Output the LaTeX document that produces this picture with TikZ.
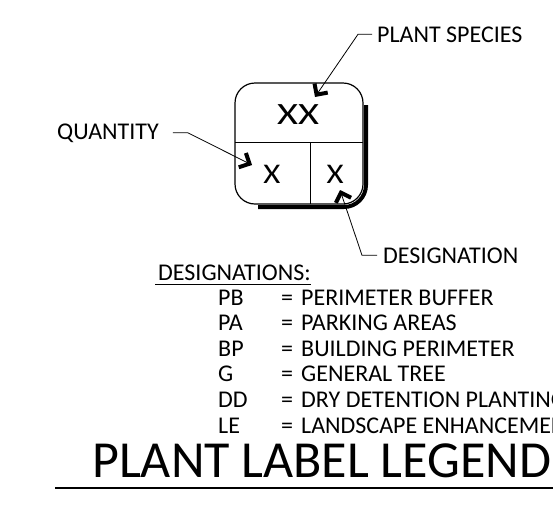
\documentclass[tikz,border=0pt]{standalone}
\usepackage{fontspec}
\setmainfont{Carlito}
\usepackage{tikz}
\usepackage{graphicx}
\usetikzlibrary{arrows.meta}
\tikzstyle{lbl}=[inner sep=0pt, anchor=base west, font=\fontsize{24}{28}\selectfont]
\tikzstyle{xmark}=[inner sep=0pt]
\tikzstyle{leader}=[line width=0.8pt, -{Straight Barb[length=8pt,width=16pt,line width=4pt]}]

\begin{document}
\begin{tikzpicture}[x=1pt,y=-1pt]
  \useasboundingbox (0,0) rectangle (553,509);
  % the label symbol
  \draw[line width=4pt, rounded corners=22pt] (366,105) -- (366,207) -- (258,207);
  \draw[fill=white, line width=1.2pt, rounded corners=20pt] (235,83) rectangle (363,204);
  \draw[line width=1pt] (235,142) -- (363,142);
  \draw[line width=1pt] (310,142) -- (310,204);
  \node[xmark, font=\fontsize{31}{31}\selectfont] (xx) at (298,115) {\scalebox{1.3}[1]{XX}};
  \node[xmark, font=\fontsize{28.5}{29}\selectfont] (qx) at (272,174) {\scalebox{1.15}[1]{X}};
  \node[xmark, font=\fontsize{28.5}{29}\selectfont] (dx) at (335,174) {\scalebox{1.15}[1]{X}};

  \node[lbl] (spec) at (377,42) {PLANT SPECIES};
  \node[lbl] (qty) at (57,139) {QUANTITY};
  \node[lbl] (desig) at (383,263) {DESIGNATION};

  \coordinate (spectip) at (315,97);
  \coordinate (qtytip) at (252,165);
  \coordinate (destip) at (340,190);
  \draw[leader] ([xshift=-5pt]spec.west) -- ++(-14,0) -- (spectip);
  \draw[leader] ([xshift=14pt]qty.east) -- ++(15,0) -- (qtytip);
  \draw[leader] ([xshift=-6pt]desig.west) -- ++(-15,0) -- (destip);

  % designations list
  \node[lbl] (dsg) at (158,280) {DESIGNATIONS:};
  \draw[line width=1pt] ([xshift=-3pt,yshift=-4pt]dsg.base west) -- ([yshift=-4pt]dsg.base east);
  \foreach \code/\name [count=\i from 0] in {PB/PERIMETER BUFFER,PA/PARKING AREAS,BP/BUILDING PERIMETER,G/GENERAL TREE,DD/DRY DETENTION PLANTING,LE/LANDSCAPE ENHANCEMENT}
  {
    \node[lbl] (code\i) at (218,{305+25.6*\i}) {\code};
    \node[lbl] (eq\i) at (281,{305+25.6*\i}) {=};
    \node[lbl] (name\i) at (301,{305+25.6*\i}) {\name};
  }

  \node[inner sep=0pt, anchor=base west, font=\fontsize{52}{55}\selectfont] (title) at (92,477) {PLANT LABEL LEGEND};
  \draw[line width=1.2pt] (55,488) -- (560,488);
\end{tikzpicture}
\end{document}
